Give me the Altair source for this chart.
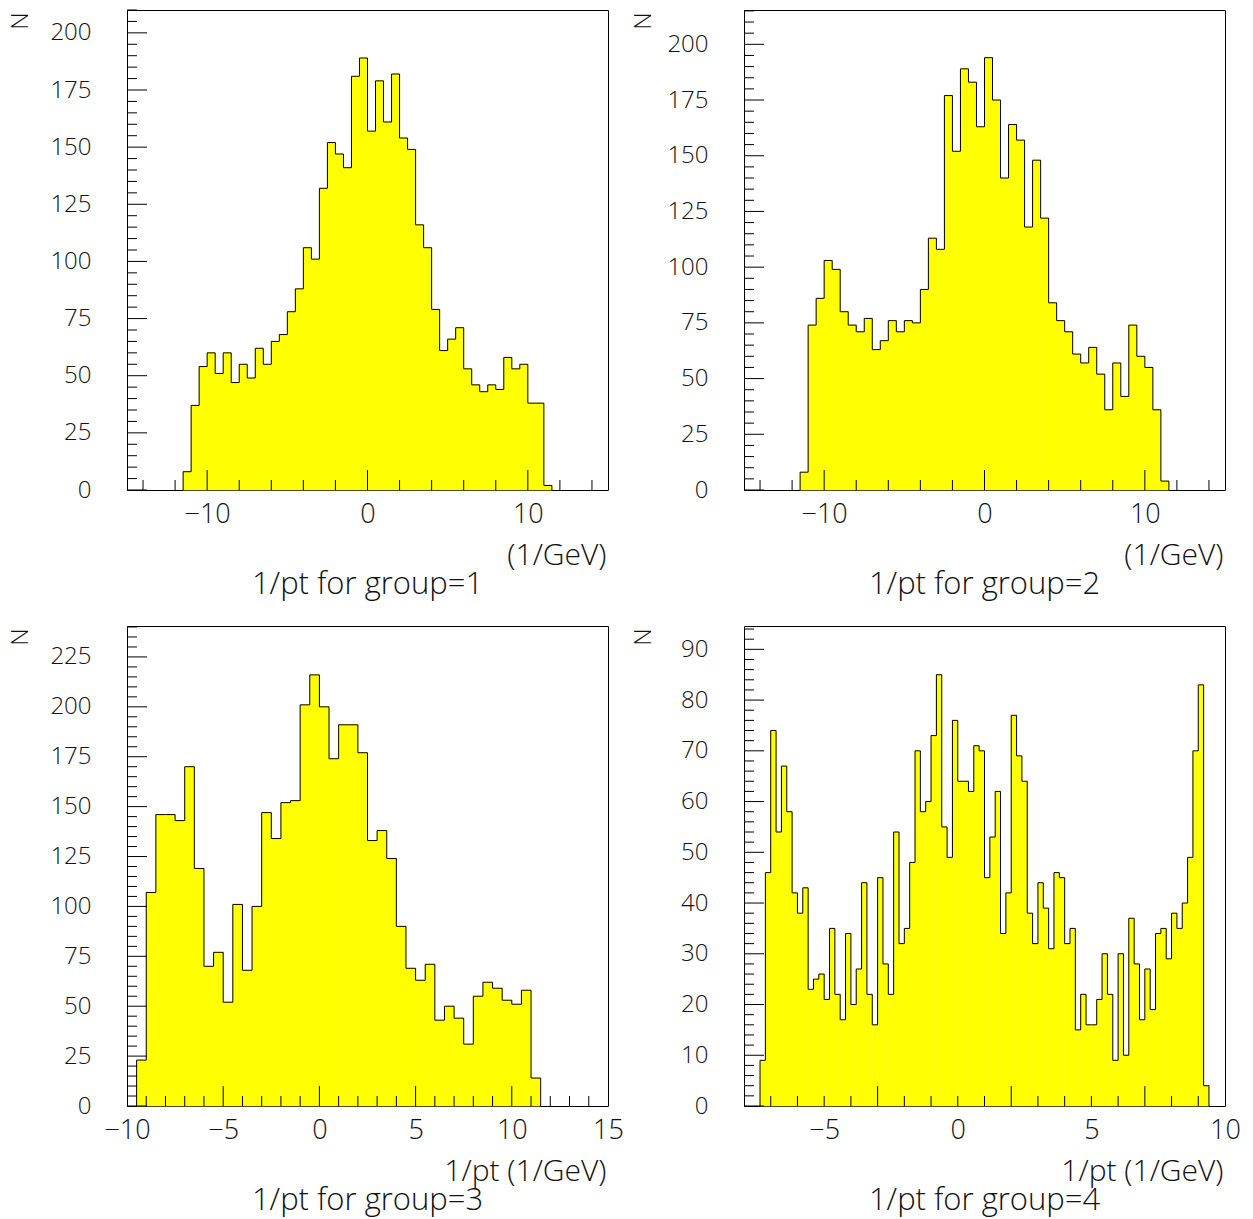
import altair as alt
import pandas as pd

FONT = "Open Sans"
YELLOW = "#ffff00"

# ---- data: first bin low edge, bin width, bin contents ----
g1_lo, g1_w = -11.5, 0.5
g1_counts = [8, 37, 54, 60, 51, 60, 47, 55, 49, 62, 55, 65, 68, 78, 88, 106, 101, 132, 152, 147,
             141, 181, 189, 157, 179, 161, 182, 154, 149, 116, 106, 79, 61, 66, 71, 53, 46, 43, 46, 44,
             58, 53, 55, 38, 38, 2]

g2_lo, g2_w = -11.5, 0.5
g2_counts = [8, 74, 86, 103, 99, 80, 74, 71, 77, 63, 67, 76, 71, 76, 75, 90, 113, 108, 177, 152,
             189, 183, 163, 194, 175, 140, 164, 157, 118, 148, 122, 84, 76, 71, 61, 57, 64, 52, 36, 57,
             42, 74, 60, 55, 36, 4]

g3_lo, g3_w = -9.5, 0.5
g3_counts = [23, 107, 146, 146, 143, 170, 119, 70, 77, 52, 101, 68, 100, 147, 134, 152, 153, 201, 216, 200,
             174, 191, 191, 177, 133, 138, 124, 90, 69, 63, 71, 43, 50, 44, 31, 55, 62, 59, 53, 51,
             58, 14]

g4_lo, g4_w = -7.4, 0.2
g4_counts = [9, 46, 74, 54, 67, 58, 42, 38, 43, 23, 25, 26, 21, 35, 22, 17, 34, 20, 27, 44,
             22, 16, 45, 28, 22, 54, 32, 35, 48, 70, 58, 60, 73, 85, 55, 49, 76, 64, 64, 62,
             71, 70, 45, 53, 62, 34, 42, 77, 69, 64, 38, 32, 44, 39, 31, 46, 45, 32, 35, 15,
             22, 16, 16, 21, 30, 22, 9, 30, 10, 37, 28, 17, 27, 19, 34, 35, 29, 38, 35, 40,
             49, 70, 83, 4]

# axis ranges and tick labels
x_dom_12 = [-15, 15]
x_labels_12 = [-10, 0, 10]
x_dom_3 = [-10, 15]
x_labels_3 = [-10, -5, 0, 5, 10, 15]
x_dom_4 = [-8, 10]
x_labels_4 = [-5, 0, 5, 10]
y_max = [210, 215.4, 240.5, 94.6]
y_labels_123 = [0, 25, 50, 75, 100, 125, 150, 175, 200, 225]
y_labels_4 = [0, 10, 20, 30, 40, 50, 60, 70, 80, 90]

titles = ["1/pt for group=1", "1/pt for group=2", "1/pt for group=3", "1/pt for group=4"]
x_titles = ["(1/GeV)", "(1/GeV)", "1/pt (1/GeV)", "1/pt (1/GeV)"]

W, H = 481, 480


def steps(a, b, step):
    out = []
    v = a
    while v <= b + 1e-9:
        out.append(round(v, 6))
        v += step
    return out


def panel(lo, w, counts, xdom, xlabels, xminor_step, ymax, ylabels, ymajor_step, yminor_step,
          xtitle, title, n_x):
    n = len(counts)
    bins = pd.DataFrame({
        "lo": [round(lo + i * w, 6) for i in range(n)],
        "hi": [round(lo + (i + 1) * w, 6) for i in range(n)],
        "count": counts,
    })
    xs_line = [lo, lo] + [round(lo + i * w, 6) for i in range(1, n)] + [round(lo + n * w, 6)] * 2
    ys_line = [0] + list(counts) + [counts[-1], 0]
    outline = pd.DataFrame({"x": xs_line, "y": ys_line, "i": list(range(len(xs_line)))})

    xsc = alt.Scale(domain=xdom, nice=False, zero=False)
    ysc = alt.Scale(domain=[0, ymax], nice=False, zero=False)
    ylab = [v for v in ylabels if v <= ymax]

    xaxis = alt.Axis(values=xlabels, ticks=False, domain=False, grid=False,
                     labelFontSize=27, labelPadding=11, labelFlush=False, labelOverlap=False,
                     title=xtitle, titleX=W - 2, titleY=65, titleAlign="right", titleBaseline="middle",
                     titleFontSize=30)
    yaxis = alt.Axis(values=ylab, ticks=False, domain=False, grid=False,
                     labelFontSize=24, labelPadding=36, labelOverlap=False, labelFlush=False,
                     title="N", titleX=n_x, titleY=2, titleAngle=270, titleAlign="right",
                     titleBaseline="middle", titleFontSize=24)

    fill = alt.Chart(bins).mark_rect(fill=YELLOW, stroke=YELLOW, strokeWidth=0.6).encode(
        x=alt.X("lo:Q", scale=xsc, axis=xaxis),
        x2="hi:Q",
        y=alt.Y("count:Q", scale=ysc, axis=yaxis),
        y2=alt.datum(0),
    )
    line = alt.Chart(outline).mark_line(interpolate="step-after", color="black", strokeWidth=1).encode(
        x=alt.X("x:Q", scale=xsc),
        y=alt.Y("y:Q", scale=ysc),
        order="i:Q",
    )

    ymaj = [v for v in steps(0, ymax, ymajor_step)]
    ymin = [v for v in steps(0, ymax, yminor_step) if v not in ymaj]
    xmaj = [v for v in steps(xdom[0], xdom[1], 5 if xminor_step == 1 else 10)]
    xmaj = [v for v in xmaj if xdom[0] < v < xdom[1]]
    xmin = [v for v in steps(xdom[0], xdom[1], xminor_step) if v not in xmaj and xdom[0] < v < xdom[1]]
    if xdom == [-15, 15]:
        xmaj = [-10, 0, 10]
        xmin = [v for v in steps(-14, 14, 2) if v not in xmaj]

    def yrule(vals, length):
        return alt.Chart(pd.DataFrame({"v": vals})).mark_rule(color="black", strokeWidth=1).encode(
            y=alt.Y("v:Q", scale=ysc), x=alt.value(0), x2=alt.value(length))

    def xrule(vals, length):
        return alt.Chart(pd.DataFrame({"v": vals})).mark_rule(color="black", strokeWidth=1).encode(
            x=alt.X("v:Q", scale=xsc), y=alt.value(H), y2=alt.value(H - length))

    return alt.layer(
        fill, line, yrule(ymaj, 20), yrule(ymin, 10), xrule(xmaj, 20), xrule(xmin, 10)
    ).properties(
        width=W, height=H,
        title=alt.TitleParams(title, orient="bottom", anchor="middle", fontSize=31, offset=0),
    )


p1 = panel(g1_lo, g1_w, g1_counts, x_dom_12, x_labels_12, 2, y_max[0], y_labels_123, 25, 5,
           x_titles[0], titles[0], -107)
p2 = panel(g2_lo, g2_w, g2_counts, x_dom_12, x_labels_12, 2, y_max[1], y_labels_123, 25, 5,
           x_titles[1], titles[1], -101)
p3 = panel(g3_lo, g3_w, g3_counts, x_dom_3, x_labels_3, 1, y_max[2], y_labels_123, 25, 5,
           x_titles[2], titles[2], -107)
p4 = panel(g4_lo, g4_w, g4_counts, x_dom_4, x_labels_4, 1, y_max[3], y_labels_4, 10, 2,
           x_titles[3], titles[3], -101)

chart = alt.concat(p1, p2, p3, p4, columns=2, spacing=136, bounds="flush").configure_view(
    stroke="black", strokeWidth=1
).configure_axis(
    labelFont=FONT, titleFont=FONT, labelColor="#111", titleColor="#111",
    titleFontWeight=300, labelFontWeight=300,
).configure_title(
    font=FONT, fontWeight=300, color="#111"
).properties(
    background="white",
    padding={"left": 7, "top": 9, "right": 5, "bottom": 14},
)

chart.save("out.html", embed_options={"renderer": "svg", "actions": False})
